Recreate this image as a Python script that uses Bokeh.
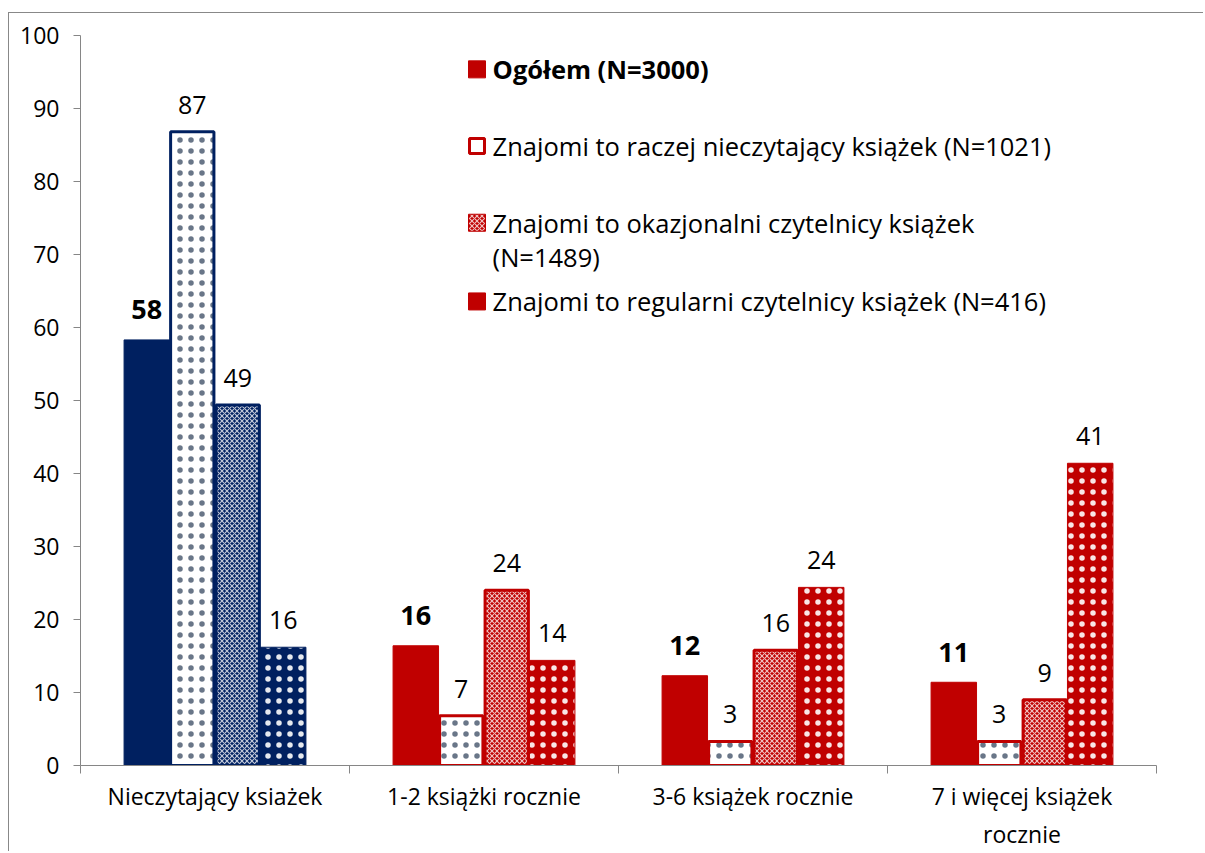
from bokeh.plotting import figure
from bokeh.models import FixedTicker, ColumnDataSource, Label
from bokeh.core.properties import value
from bokeh.embed import file_html
from bokeh.resources import INLINE

categories = ["Nieczytający ksiażek", "1-2 książki rocznie", "3-6 książek rocznie", "7 i więcej książek\nrocznie"]
series_names = ["Ogółem (N=3000)",
                "Znajomi to raczej nieczytający książek (N=1021)",
                "Znajomi to okazjonalni czytelnicy książek\n(N=1489)",
                "Znajomi to regularni czytelnicy książek (N=416)"]
ogolem = [58.3, 16.4, 12.3, 11.4]
nieczytajacy = [86.8, 6.8, 3.3, 3.3]
okazjonalni = [49.4, 24.0, 15.8, 9.0]
regularni = [16.2, 14.4, 24.4, 41.4]
series = [ogolem, nieczytajacy, okazjonalni, regularni]
y_ticks = list(range(0, 101, 10))

NAVY = "#002060"
RED = "#C00000"
GRAY = "#868686"
FONT = "Open Sans"
cat_colors = [NAVY, RED, RED, RED]

p = figure(width=1195, height=839, x_range=(0, 4), y_range=(0, 100),
           output_backend="svg", toolbar_location=None,
           min_border_left=71, min_border_top=22, min_border_right=48, min_border_bottom=84)
p.styles = {"border-top": "1px solid #888888", "border-left": "1px solid #888888",
            "margin-top": "12px", "margin-left": "8px"}
p.outline_line_color = None
p.xgrid.visible = False
p.ygrid.visible = False

bar_w = 0.169
for k, vals in enumerate(series):
    xs = [i + 0.5 + (k - 1.5) * bar_w for i in range(len(categories))]
    src = ColumnDataSource(dict(x=xs, top=vals, color=cat_colors,
                                lab=[str(int(round(v))) for v in vals]))
    if k == 0:
        p.vbar(x="x", top="top", width=bar_w, source=src, fill_color="color", line_color="color", line_width=1)
    elif k == 1:
        p.vbar(x="x", top="top", width=bar_w - 0.008, source=src, fill_color="white", line_color="color",
               line_width=3, hatch_pattern="dot", hatch_color="#44546A", hatch_scale=11, hatch_weight=1,
               hatch_alpha=0.8)
    elif k == 2:
        p.vbar(x="x", top="top", width=bar_w - 0.008, source=src, fill_color="color", line_color="color",
               line_width=3, hatch_pattern="diagonal_cross", hatch_color="white", hatch_scale=5,
               hatch_weight=1.2, hatch_alpha=0.75)
    else:
        p.vbar(x="x", top="top", width=bar_w, source=src, fill_color="color", line_color="color",
               line_width=1, hatch_pattern="dot", hatch_color="white", hatch_scale=11, hatch_weight=1,
               hatch_alpha=0.9)
    p.text(x="x", y="top", text="lab", source=src, text_align="center", text_baseline="middle",
           y_offset=-30 if k == 0 else -27, text_font=value(FONT),
           text_font_size="27px" if k == 0 else "25px",
           text_font_style="bold" if k == 0 else "normal", text_color="black")

# axes
p.yaxis.ticker = FixedTicker(ticks=y_ticks)
p.yaxis.axis_line_color = GRAY
p.yaxis.major_tick_line_color = GRAY
p.yaxis.major_tick_out = 7
p.yaxis.major_tick_in = 0
p.yaxis.minor_tick_line_color = None
p.yaxis.major_label_text_font = FONT
p.yaxis.major_label_text_font_size = "23px"
p.yaxis.major_label_text_color = "black"
p.yaxis.major_label_standoff = 14

centers = [i + 0.5 for i in range(len(categories))]
p.xaxis.ticker = FixedTicker(ticks=centers, minor_ticks=list(range(len(categories) + 1)))
p.xaxis.major_label_overrides = {c: lab for c, lab in zip(centers, categories)}
p.xaxis.axis_line_color = GRAY
p.xaxis.major_tick_line_color = None
p.xaxis.minor_tick_line_color = GRAY
p.xaxis.minor_tick_out = 8
p.xaxis.minor_tick_in = 0
p.xaxis.major_label_text_font = FONT
p.xaxis.major_label_text_font_size = "23px"
p.xaxis.major_label_text_color = "black"
p.xaxis.major_label_standoff = 6

# legend (manual)
leg_x = 1.474
leg_tx = 1.532
leg_y = [95.36, 84.86, 74.35, 63.57]
p.scatter([leg_x], [leg_y[0]], marker="square", size=17, fill_color=RED, line_color=RED)
p.scatter([leg_x], [leg_y[1]], marker="square", size=15, fill_color="white", line_color=RED, line_width=3)
p.scatter([leg_x], [leg_y[2]], marker="square", size=17, fill_color=RED, line_color=RED,
          hatch_pattern="diagonal_cross", hatch_color="white", hatch_scale=5, hatch_weight=1.2, hatch_alpha=0.75)
p.scatter([leg_x], [leg_y[3]], marker="square", size=17, fill_color=RED, line_color=RED)
for k, name in enumerate(series_names):
    lines = name.split("\n")
    for j, ln in enumerate(lines):
        p.add_layout(Label(x=leg_tx, y=leg_y[k], y_offset=-34 * j, text=ln, text_baseline="middle",
                           text_font=FONT, text_font_size="25.5px", text_color="black",
                           text_font_style="bold" if k == 0 else "normal"))

open("out.html", "w").write(file_html(p, INLINE))
